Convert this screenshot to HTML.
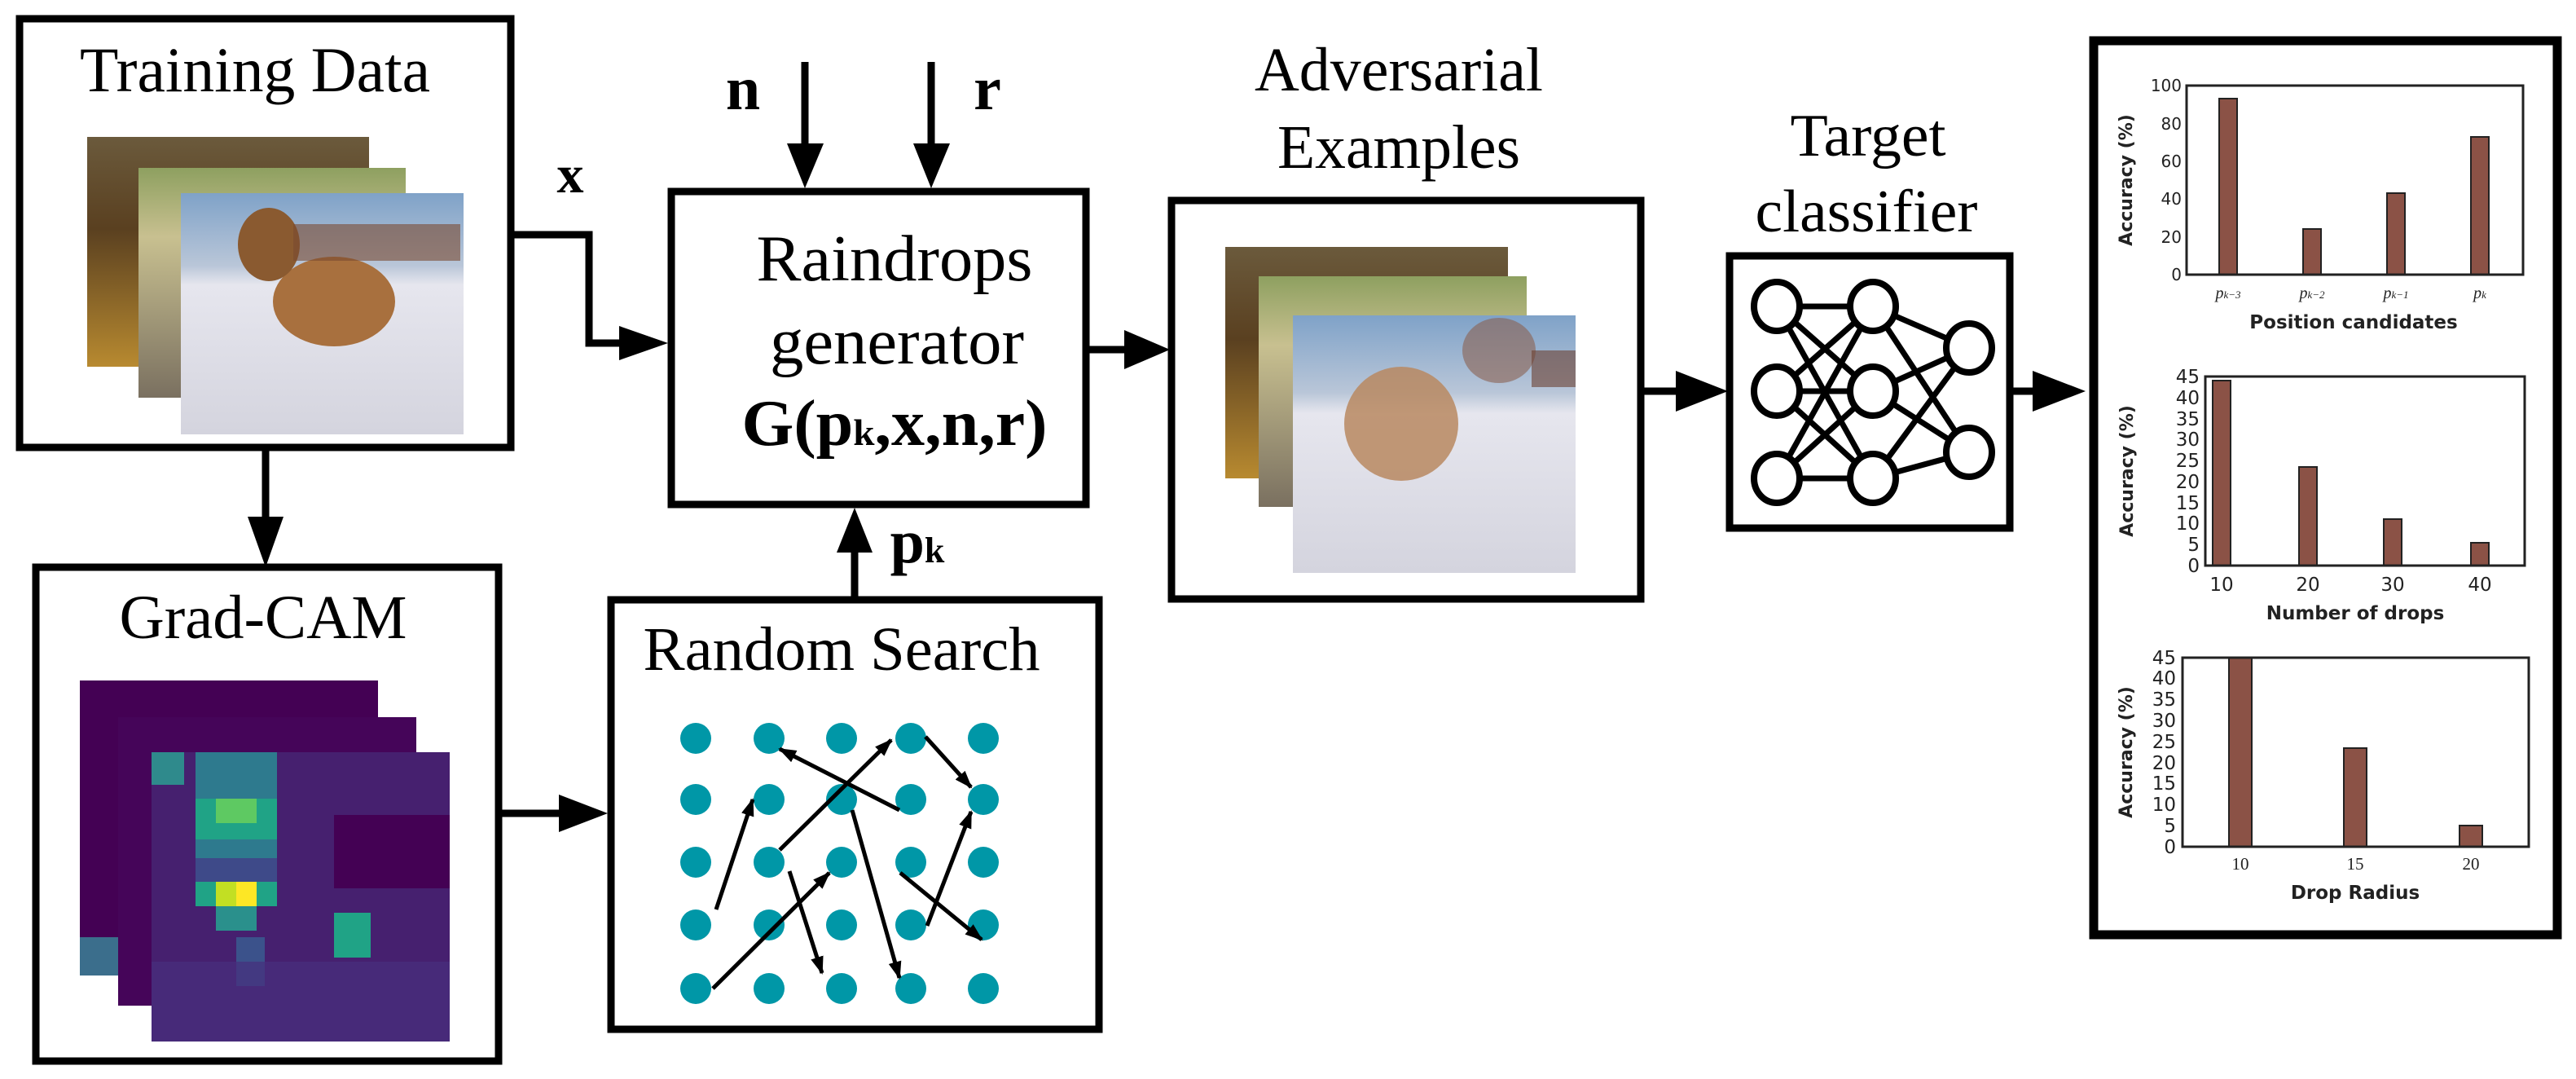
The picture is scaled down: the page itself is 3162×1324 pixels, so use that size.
<!DOCTYPE html>
<html><head><meta charset="utf-8"><style>html,body{margin:0;padding:0;background:#fff}svg{display:block}</style></head>
<body>
<svg xmlns="http://www.w3.org/2000/svg" width="3162" height="1324" viewBox="0 0 3162 1324">
<defs>
<linearGradient id="gBack" x1="0" y1="0" x2="0" y2="1"><stop offset="0" stop-color="#6b5a3c"/><stop offset="0.4" stop-color="#5a4020"/><stop offset="1" stop-color="#b88a30"/></linearGradient>
<linearGradient id="gMid" x1="0" y1="0" x2="0" y2="1"><stop offset="0" stop-color="#8ea060"/><stop offset="0.3" stop-color="#c8c090"/><stop offset="1" stop-color="#7a7060"/></linearGradient>
<linearGradient id="gFront" x1="0" y1="0" x2="0" y2="1"><stop offset="0" stop-color="#7fa2c8"/><stop offset="0.3" stop-color="#b9c6d8"/><stop offset="0.38" stop-color="#e6e6ee"/><stop offset="1" stop-color="#d4d4de"/></linearGradient>
</defs>
<g fill="none" stroke="#000" stroke-width="9">
<rect x="24" y="23" width="603" height="526"/>
<rect x="824" y="235" width="509" height="384"/>
<rect x="44" y="696" width="568" height="606"/>
<rect x="750" y="736" width="599" height="527"/>
<rect x="1438" y="246" width="576" height="489"/>
<rect x="2123" y="314" width="344" height="334"/>
<rect x="2570" y="50" width="569" height="1097" stroke-width="11"/>
</g>
<g font-family="Liberation Serif, serif" fill="#000" text-anchor="middle">
<text x="313" y="112" font-size="78" textLength="430" lengthAdjust="spacingAndGlyphs">Training Data</text>
<text x="1098" y="344" font-size="80" textLength="339" lengthAdjust="spacingAndGlyphs">Raindrops</text>
<text x="1101" y="446" font-size="80" textLength="312" lengthAdjust="spacingAndGlyphs">generator</text>
<text x="1098" y="546" font-size="80" font-weight="bold" textLength="375" lengthAdjust="spacingAndGlyphs">G(p<tspan font-size="46">k</tspan>,x,n,r)</text>
<text x="323" y="783" font-size="76" textLength="353" lengthAdjust="spacingAndGlyphs">Grad-CAM</text>
<text x="1033" y="822" font-size="76" textLength="487" lengthAdjust="spacingAndGlyphs">Random Search</text>
<text x="1717" y="111" font-size="76" textLength="354" lengthAdjust="spacingAndGlyphs">Adversarial</text>
<text x="1717" y="206" font-size="76" textLength="298" lengthAdjust="spacingAndGlyphs">Examples</text>
<text x="2293" y="191" font-size="74" textLength="191" lengthAdjust="spacingAndGlyphs">Target</text>
<text x="2291" y="284" font-size="74" textLength="273" lengthAdjust="spacingAndGlyphs">classifier</text>
<text x="700" y="236" font-size="66" font-weight="bold">x</text>
<text x="912" y="134" font-size="76" font-weight="bold">n</text>
<text x="1212" y="134" font-size="76" font-weight="bold">r</text>
<text x="1126" y="690" font-size="76" font-weight="bold">p<tspan font-size="44">k</tspan></text>
</g>
<rect x="107" y="168" width="346" height="282" fill="url(#gBack)"/>
<rect x="170" y="206" width="328" height="282" fill="url(#gMid)"/>
<rect x="222" y="237" width="347" height="296" fill="url(#gFront)"/>
<ellipse cx="410" cy="370" rx="75" ry="55" fill="#a8703e"/>
<ellipse cx="330" cy="300" rx="38" ry="45" fill="#8a5a30"/>
<rect x="360" y="275" width="205" height="45" fill="#7a4a30" opacity="0.6"/>
<rect x="1504" y="303" width="347" height="284" fill="url(#gBack)"/>
<rect x="1545" y="339" width="329" height="283" fill="url(#gMid)"/>
<rect x="1587" y="387" width="347" height="316" fill="url(#gFront)"/>
<ellipse cx="1720" cy="520" rx="70" ry="70" fill="#b88860" opacity="0.85"/>
<ellipse cx="1840" cy="430" rx="45" ry="40" fill="#8a6050" opacity="0.6"/>
<rect x="1880" y="430" width="54" height="45" fill="#6a4030" opacity="0.6"/>
<rect x="98" y="835" width="366" height="362" fill="#440154"/>
<rect x="98" y="1150" width="50" height="47" fill="#3b6e8c"/>
<rect x="145" y="880" width="366" height="354" fill="#450559"/>
<rect x="186" y="923" width="366" height="355" fill="#46206f"/>
<rect x="186" y="923" width="40" height="40" fill="#2f8a8c"/>
<rect x="240" y="923" width="100" height="130" fill="#2e7a8e"/>
<rect x="240" y="980" width="100" height="50" fill="#20a386"/>
<rect x="265" y="980" width="50" height="30" fill="#5ec962"/>
<rect x="240" y="1053" width="100" height="40" fill="#3e4a89"/>
<rect x="240" y="1082" width="100" height="30" fill="#20a386"/>
<rect x="265" y="1082" width="50" height="30" fill="#c2df23"/>
<rect x="290" y="1082" width="25" height="30" fill="#fde725"/>
<rect x="265" y="1112" width="50" height="30" fill="#2a908c"/>
<rect x="410" y="1120" width="45" height="55" fill="#20a386"/>
<rect x="290" y="1150" width="35" height="60" fill="#3b528b"/>
<rect x="186" y="1180" width="366" height="98" fill="#472f7d" opacity="0.7"/>
<rect x="410" y="1000" width="142" height="90" fill="#440154"/>
<g fill="#0097a7">
<circle cx="854" cy="906" r="19"/><circle cx="944" cy="906" r="19"/><circle cx="1033" cy="906" r="19"/><circle cx="1118" cy="906" r="19"/><circle cx="1207" cy="906" r="19"/>
<circle cx="854" cy="981" r="19"/><circle cx="944" cy="981" r="19"/><circle cx="1033" cy="981" r="19"/><circle cx="1118" cy="981" r="19"/><circle cx="1207" cy="981" r="19"/>
<circle cx="854" cy="1058" r="19"/><circle cx="944" cy="1058" r="19"/><circle cx="1033" cy="1058" r="19"/><circle cx="1118" cy="1058" r="19"/><circle cx="1207" cy="1058" r="19"/>
<circle cx="854" cy="1135" r="19"/><circle cx="944" cy="1135" r="19"/><circle cx="1033" cy="1135" r="19"/><circle cx="1118" cy="1135" r="19"/><circle cx="1207" cy="1135" r="19"/>
<circle cx="854" cy="1213" r="19"/><circle cx="944" cy="1213" r="19"/><circle cx="1033" cy="1213" r="19"/><circle cx="1118" cy="1213" r="19"/><circle cx="1207" cy="1213" r="19"/>
</g>
<defs>
<marker id="sa" markerWidth="22" markerHeight="16" refX="20" refY="8" orient="auto" markerUnits="userSpaceOnUse" viewBox="0 0 22 16"><path d="M0,0 L22,8 L0,16 z" fill="#000"/></marker></defs>
<g stroke="#000" stroke-width="5" marker-end="url(#sa)">
<line x1="1104" y1="994" x2="957" y2="919"/>
<line x1="957" y1="1043" x2="1094" y2="908"/>
<line x1="875" y1="1213" x2="1018" y2="1071"/>
<line x1="1136" y1="904" x2="1192" y2="966"/>
<line x1="879" y1="1116" x2="924" y2="981"/>
<line x1="969" y1="1069" x2="1009" y2="1194"/>
<line x1="1046" y1="994" x2="1104" y2="1200"/>
<line x1="1138" y1="1136" x2="1192" y2="996"/>
<line x1="1105" y1="1071" x2="1205" y2="1153"/>
</g>
<g stroke="#000" stroke-width="9" fill="none">
<polyline points="631,288 723,288 723,421 770,421"/>
<line x1="988" y1="76" x2="988" y2="180"/>
<line x1="1143" y1="76" x2="1143" y2="180"/>
<line x1="1049" y1="732" x2="1049" y2="670"/>
<line x1="326" y1="553" x2="326" y2="640"/>
<line x1="616" y1="998" x2="695" y2="998"/>
<line x1="1337" y1="429" x2="1385" y2="429"/>
<line x1="2018" y1="480" x2="2062" y2="480"/>
<line x1="2471" y1="480" x2="2500" y2="480"/>
</g>
<g fill="#000">
<polygon points="760,400 820,421 760,442"/>
<polygon points="966,176 1011,176 988,231"/>
<polygon points="1121,176 1166,176 1143,231"/>
<polygon points="1027,678 1071,678 1049,623"/>
<polygon points="304,634 348,634 326,696"/>
<polygon points="686,975 746,998 686,1021"/>
<polygon points="1380,405 1436,429 1380,453"/>
<polygon points="2057,455 2121,480 2057,505"/>
<polygon points="2495,455 2560,480 2495,505"/>
</g>
<g stroke="#000" stroke-width="7">
<line x1="2181" y1="376" x2="2299" y2="376"/><line x1="2181" y1="376" x2="2299" y2="480"/><line x1="2181" y1="376" x2="2299" y2="587"/>
<line x1="2181" y1="480" x2="2299" y2="376"/><line x1="2181" y1="480" x2="2299" y2="480"/><line x1="2181" y1="480" x2="2299" y2="587"/>
<line x1="2181" y1="587" x2="2299" y2="376"/><line x1="2181" y1="587" x2="2299" y2="480"/><line x1="2181" y1="587" x2="2299" y2="587"/>
<line x1="2299" y1="376" x2="2417" y2="427"/><line x1="2299" y1="376" x2="2417" y2="555"/>
<line x1="2299" y1="480" x2="2417" y2="427"/><line x1="2299" y1="480" x2="2417" y2="555"/>
<line x1="2299" y1="587" x2="2417" y2="427"/><line x1="2299" y1="587" x2="2417" y2="555"/>
</g>
<g fill="#fff" stroke="#000" stroke-width="8">
<ellipse cx="2181" cy="376" rx="28" ry="30"/><ellipse cx="2181" cy="480" rx="28" ry="30"/><ellipse cx="2181" cy="587" rx="28" ry="30"/>
<ellipse cx="2299" cy="376" rx="28" ry="30"/><ellipse cx="2299" cy="480" rx="28" ry="30"/><ellipse cx="2299" cy="587" rx="28" ry="30"/>
<ellipse cx="2417" cy="427" rx="28" ry="30"/><ellipse cx="2417" cy="555" rx="28" ry="30"/>
</g>
<g font-family="DejaVu Sans, Liberation Sans, sans-serif" fill="#222">
<g fill="#8b5246" stroke="#222" stroke-width="2">
<rect x="2724" y="121" width="22" height="216"/>
<rect x="2827" y="281" width="22" height="56"/>
<rect x="2930" y="237" width="22" height="100"/>
<rect x="3033" y="168" width="22" height="169"/>
</g>
<rect x="2684" y="105" width="413" height="232" fill="none" stroke="#222" stroke-width="3"/>
<g font-size="20" text-anchor="end">
<text x="2678" y="344">0</text><text x="2678" y="298">20</text><text x="2678" y="251">40</text><text x="2678" y="205">60</text><text x="2678" y="159">80</text><text x="2678" y="112">100</text>
</g>
<g font-family="Liberation Serif, serif" font-style="italic" font-size="20" text-anchor="middle">
<text x="2735" y="366">p<tspan font-size="13">k−3</tspan></text><text x="2838" y="366">p<tspan font-size="13">k−2</tspan></text><text x="2941" y="366">p<tspan font-size="13">k−1</tspan></text><text x="3044" y="366">p<tspan font-size="13">k</tspan></text>
</g>
<text x="2889" y="403" font-size="23" font-weight="bold" text-anchor="middle">Position candidates</text>
<text transform="translate(2617,221) rotate(-90)" font-size="22" font-weight="bold" text-anchor="middle">Accuracy (%)</text>
</g>
<g font-family="DejaVu Sans, Liberation Sans, sans-serif" fill="#222">
<g fill="#8b5246" stroke="#222" stroke-width="2">
<rect x="2716" y="467" width="22" height="227"/>
<rect x="2822" y="573" width="22" height="121"/>
<rect x="2926" y="637" width="22" height="57"/>
<rect x="3033" y="666" width="22" height="28"/>
</g>
<rect x="2707" y="462" width="392" height="232" fill="none" stroke="#222" stroke-width="3"/>
<g font-size="23" text-anchor="end">
<text x="2700" y="702">0</text><text x="2700" y="676">5</text><text x="2700" y="650">10</text><text x="2700" y="625">15</text><text x="2700" y="599">20</text><text x="2700" y="573">25</text><text x="2700" y="547">30</text><text x="2700" y="522">35</text><text x="2700" y="496">40</text><text x="2700" y="470">45</text>
</g>
<g font-size="23" text-anchor="middle"><text x="2727" y="725">10</text><text x="2833" y="725">20</text><text x="2937" y="725">30</text><text x="3044" y="725">40</text></g>
<text x="2891" y="760" font-size="23" font-weight="bold" text-anchor="middle">Number of drops</text>
<text transform="translate(2618,578) rotate(-90)" font-size="22" font-weight="bold" text-anchor="middle">Accuracy (%)</text>
</g>
<g font-family="DejaVu Sans, Liberation Sans, sans-serif" fill="#222">
<g fill="#8b5246" stroke="#222" stroke-width="2">
<rect x="2736" y="807" width="28" height="232"/>
<rect x="2877" y="918" width="28" height="121"/>
<rect x="3019" y="1013" width="28" height="26"/>
</g>
<rect x="2679" y="807" width="425" height="232" fill="none" stroke="#222" stroke-width="3"/>
<g font-size="23" text-anchor="end">
<text x="2671" y="1047">0</text><text x="2671" y="1021">5</text><text x="2671" y="995">10</text><text x="2671" y="969">15</text><text x="2671" y="944">20</text><text x="2671" y="918">25</text><text x="2671" y="892">30</text><text x="2671" y="866">35</text><text x="2671" y="840">40</text><text x="2671" y="815">45</text>
</g>
<g font-family="Liberation Serif, serif" font-size="21" text-anchor="middle"><text x="2750" y="1067">10</text><text x="2891" y="1067">15</text><text x="3033" y="1067">20</text></g>
<text x="2891" y="1103" font-size="23" font-weight="bold" text-anchor="middle">Drop Radius</text>
<text transform="translate(2617,923) rotate(-90)" font-size="22" font-weight="bold" text-anchor="middle">Accuracy (%)</text>
</g>
</svg>
</body></html>
